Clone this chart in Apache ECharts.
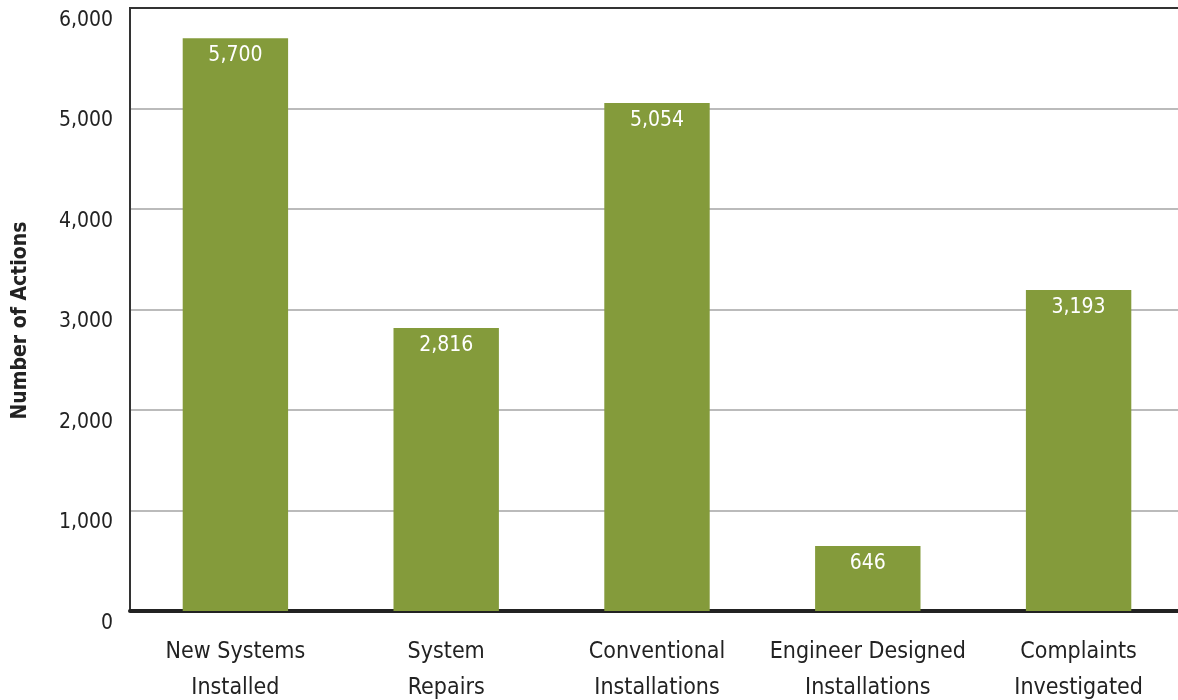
<!DOCTYPE html>
<html><head><meta charset="utf-8">
<script src="https://cdn.jsdelivr.net/npm/echarts@6/dist/echarts.min.js"></script>
<style>html,body{margin:0;padding:0;background:#fff}#c{width:1178px;height:700px}</style>
</head><body><div id="c"></div>
<script>
const categories = ['New Systems\nInstalled', 'System\nRepairs', 'Conventional\nInstallations', 'Engineer Designed\nInstallations', 'Complaints\nInvestigated'];
const actions = [5700, 2816, 5054, 646, 3193];
const yTicks = [0, 1000, 2000, 3000, 4000, 5000, 6000];
const yAxisTitle = 'Number of Actions';

const FONT = '"DejaVu Sans Condensed", "Liberation Sans Narrow", "Roboto", sans-serif';
const chart = echarts.init(document.getElementById('c'), null, {renderer: 'canvas'});
chart.setOption({
  animation: false,
  grid: {left: 130, right: -6, top: 8, bottom: 89, outerBoundsMode: 'none', containLabel: false,
    show: true, borderColor: '#333', borderWidth: 2, backgroundColor: 'transparent'},
  xAxis: {
    type: 'category', data: categories,
    axisLine: {show: true, lineStyle: {color: '#222', width: 4}},
    axisTick: {show: false},
    axisLabel: {interval: 0, color: '#222', fontFamily: FONT, fontSize: 23, lineHeight: 36, margin: 23}
  },
  yAxis: {
    type: 'value', min: yTicks[0], max: yTicks[yTicks.length - 1], interval: 1000,
    name: yAxisTitle, nameLocation: 'middle', nameGap: 99,
    nameTextStyle: {color: '#222', fontFamily: FONT, fontSize: 21, fontWeight: 'bold', padding: [0, 22, 0, 0]},
    axisLine: {show: true, lineStyle: {color: '#333', width: 2}},
    axisTick: {show: false},
    splitLine: {show: true, showMinLine: false, showMaxLine: false, lineStyle: {color: '#bbb', width: 2}},
    axisLabel: {color: '#222', fontFamily: FONT, fontSize: 21, margin: 17, verticalAlign: 'top', padding: [2, 0, 0, 0],
      formatter: v => v.toLocaleString('en-US')}
  },
  series: [{
    type: 'bar', data: actions, barWidth: '50%',
    itemStyle: {color: '#849b3b'},
    label: {show: true, position: 'insideTop', distance: 7, color: '#fff', fontFamily: FONT, fontSize: 21,
      formatter: p => p.value.toLocaleString('en-US')}
  }]
});
</script></body></html>
